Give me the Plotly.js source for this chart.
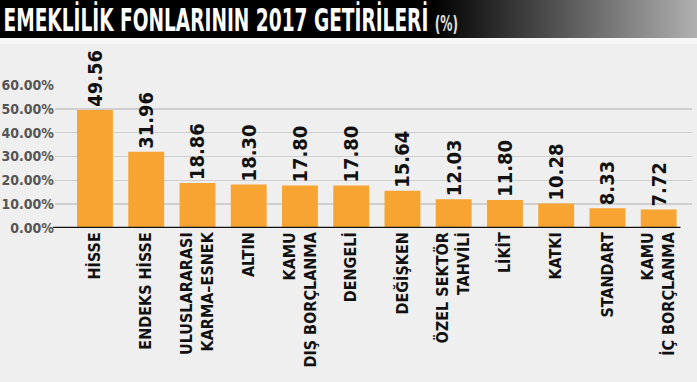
<!DOCTYPE html>
<html>
<head>
<meta charset="utf-8">
<script src="https://cdn.plot.ly/plotly-3.0.1.min.js"></script>
<style>
  html, body { margin: 0; padding: 0; background: #efefef; }
  #wrap { position: relative; width: 697px; height: 382px; overflow: hidden; background: #efefef; }
  #hdr { position: absolute; left: 0; top: 0; width: 697px; height: 38px;
         background: linear-gradient(to right, #000 0%, #000 62%, #4a4a4a 78%, #b0b0b0 100%); }
  #strip { position: absolute; left: 0; top: 38px; width: 697px; height: 6px; background: #f7f7f7; }
  #chart { position: absolute; left: 0; top: 0; width: 697px; height: 382px; }
</style>
</head>
<body>
<div id="wrap">
  <div id="hdr"></div>
  <div id="strip"></div>
  <div id="chart"></div>
</div>
<script>
const categories = ["HİSSE", "ENDEKS HİSSE", "ULUSLARARASI<br>KARMA–ESNEK", "ALTIN",
  "KAMU<br>DIŞ BORÇLANMA", "DENGELİ", "DEĞİŞKEN", "ÖZEL SEKTÖR<br>TAHVİLİ",
  "LİKİT", "KATKI", "STANDART", "KAMU<br>İÇ BORÇLANMA"];
const returns2017 = [49.56, 31.96, 18.86, 18.30, 17.80, 17.80, 15.64, 12.03, 11.80, 10.28, 8.33, 7.72];
const yTicks = [0, 10, 20, 30, 40, 50, 60];
const yTickLabels = ["0.00%", "10.00%", "20.00%", "30.00%", "40.00%", "50.00%", "60.00%"];
const titleText = "EMEKLİLİK FONLARININ 2017 GETİRİLERİ";
const titleUnit = "(%)";

const FONT = "'DejaVu Sans Condensed', 'Liberation Sans Narrow', sans-serif";

const trace = {
  type: 'bar',
  x: categories,
  y: returns2017,
  marker: { color: '#F7A433', line: { width: 0 } },
  texttemplate: '%{y:.2f}',
  textposition: 'outside',
  textangle: -90,
  constraintext: 'none',
  cliponaxis: false,
  textfont: { family: FONT, size: 20, color: '#111', weight: 'bold' },
  hoverinfo: 'skip'
};

const layout = {
  width: 697, height: 382,
  margin: { l: 55, r: 5, t: 85, b: 154 },
  paper_bgcolor: 'rgba(0,0,0,0)',
  plot_bgcolor: 'rgba(0,0,0,0)',
  showlegend: false,
  bargap: 0.3,
  title: {
    text: titleText + " <span style='font-size:21px;color:#e0e0e0'>" + titleUnit + "</span>",
    font: { family: FONT, size: 32, color: '#ffffff', weight: 'bold' },
    x: 0.005, xanchor: 'left', xref: 'container',
    y: 0.948, yanchor: 'middle', yref: 'container'
  },
  xaxis: {
    type: 'category',
    range: [-0.78, 11.65],
    tickangle: -90,
    tickfont: { family: FONT, size: 16, color: '#111', weight: 'bold' },
    showgrid: false, zeroline: false, showline: false, ticks: '',
    fixedrange: true
  },
  yaxis: {
    range: [0, 60],
    tickvals: yTicks,
    ticktext: yTickLabels,
    tickfont: { family: FONT, size: 14, color: '#555', weight: 'bold' },
    showgrid: true, gridcolor: '#cfcfcf', gridwidth: 1.5,
    zeroline: false, showline: false, ticks: '',
    fixedrange: true
  },
  shapes: [{
    type: 'line', xref: 'paper', yref: 'y',
    x0: -0.003, x1: 0.982, y0: 0, y1: 0,
    line: { color: '#111', width: 2.5 }
  }]
};

Plotly.newPlot('chart', [trace], layout, { displayModeBar: false, staticPlot: true }).then(function (gd) {
  // condense the headline horizontally to mimic the narrow headline typeface
  const t = gd.querySelector('.gtitle');
  if (t) {
    const bb = t.getBBox();
    const target = 455;
    const s = Math.min(1, target / bb.width);
    const x0 = bb.x;
    t.setAttribute('transform', 'translate(' + x0 + ',0) scale(' + s + ',1) translate(' + (-x0) + ',0)');
  }
});
</script>
</body>
</html>
